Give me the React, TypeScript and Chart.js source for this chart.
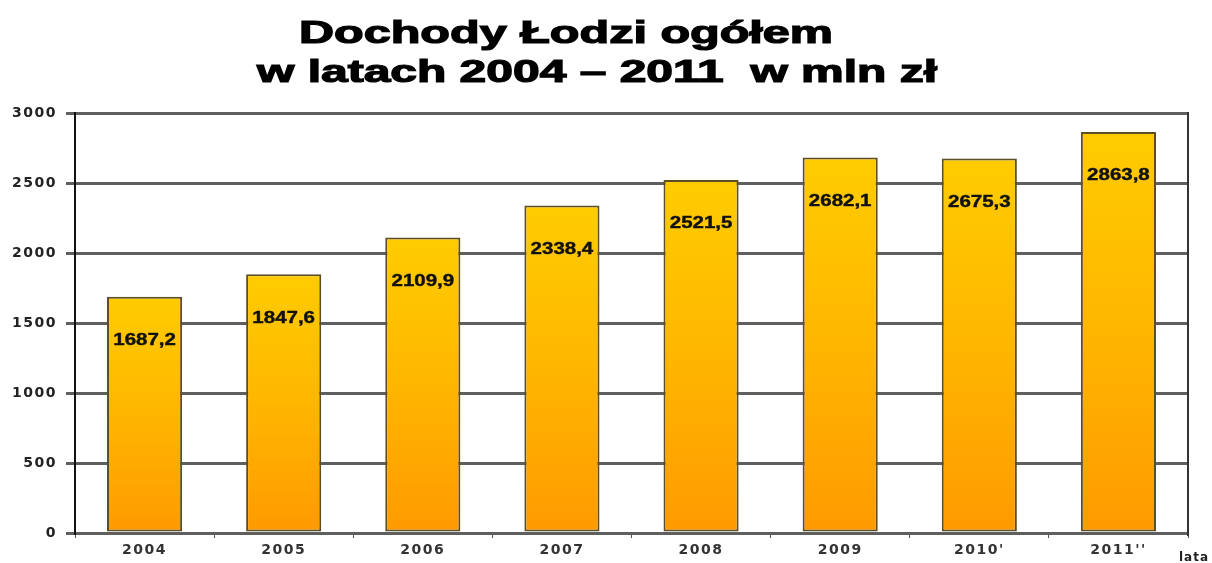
import React, { useEffect, useRef } from 'react';
import { Chart, registerables } from 'chart.js';

Chart.register(...registerables);

const categories = ['2004', '2005', '2006', '2007', '2008', '2009', "2010'", "2011''"];
const values = [1687.2, 1847.6, 2109.9, 2338.4, 2521.5, 2682.1, 2675.3, 2863.8];
const yTicks = [0, 500, 1000, 1500, 2000, 2500, 3000];
const titleLine1 = 'Dochody Łodzi ogółem';
const titleLine2 = 'w latach 2004 – 2011  w mln zł';
const xAxisName = 'lata';

const fmt = (v: number) => v.toFixed(1).replace('.', ',');

const stretchText = (ctx: CanvasRenderingContext2D, text: string, x: number, y: number, width: number, stroke: number) => {
  const w = ctx.measureText(text).width;
  ctx.save();
  ctx.translate(x, y);
  ctx.scale(width / w, 1);
  ctx.fillText(text, 0, 0);
  if (stroke > 0) {
    ctx.lineWidth = stroke;
    ctx.strokeText(text, 0, 0);
  }
  ctx.restore();
};

const decorPlugin = {
  id: 'decor',
  beforeDraw(chart: any) {
    chart.ctx.letterSpacing = '1.5px';
  },
  afterDatasetsDraw(chart: any) {
    const ctx: CanvasRenderingContext2D = chart.ctx;
    const meta = chart.getDatasetMeta(0);
    ctx.save();
    ctx.letterSpacing = '0px';
    ctx.font = 'bold 16px "Liberation Sans", Arial, sans-serif';
    ctx.fillStyle = '#111';
    ctx.strokeStyle = '#111';
    ctx.textAlign = 'center';
    ctx.textBaseline = 'middle';
    meta.data.forEach((bar: any, i: number) => {
      ctx.save();
      ctx.translate(bar.x, bar.y + 44);
      ctx.scale(1.28, 1);
      ctx.fillText(fmt(values[i]), 0, 0);
      ctx.lineWidth = 0.4;
      ctx.strokeText(fmt(values[i]), 0, 0);
      ctx.restore();
    });
    ctx.restore();
  },
  afterDraw(chart: any) {
    const ctx: CanvasRenderingContext2D = chart.ctx;
    const { chartArea } = chart;
    ctx.save();
    ctx.letterSpacing = '0px';
    // right frame line
    ctx.strokeStyle = '#333';
    ctx.lineWidth = 2;
    ctx.beginPath();
    ctx.moveTo(chartArea.right, chartArea.top - 1);
    ctx.lineTo(chartArea.right, chartArea.bottom + 3);
    ctx.stroke();
    // title
    ctx.fillStyle = '#000';
    ctx.strokeStyle = '#000';
    ctx.textAlign = 'left';
    ctx.textBaseline = 'alphabetic';
    ctx.font = 'bold 31px "Liberation Sans", Arial, sans-serif';
    stretchText(ctx, titleLine1, 299, 43, 534, 1.2);
    stretchText(ctx, titleLine2, 257, 82, 680, 1.2);
    // axis name
    ctx.font = 'bold 12px "DejaVu Sans", sans-serif';
    ctx.fillStyle = '#222';
    ctx.textBaseline = 'top';
    ctx.letterSpacing = '1px';
    ctx.fillText(xAxisName, 1179, 552);
    ctx.restore();
  },
};

export default function App() {
  const canvasRef = useRef<HTMLCanvasElement | null>(null);

  useEffect(() => {
    document.body.style.margin = '0';
    const canvas = canvasRef.current;
    if (!canvas) return;
    const chart = new Chart(canvas, {
      type: 'bar',
      data: {
        labels: categories,
        datasets: [
          {
            data: values,
            backgroundColor: (c: any) => {
              const ch = c.chart;
              if (!ch.chartArea || c.parsed == null) return '#FFB800';
              const y = ch.scales.y;
              const top = y.getPixelForValue(c.parsed.y);
              const bottom = y.getPixelForValue(0);
              const g = ch.ctx.createLinearGradient(0, top, 0, bottom);
              g.addColorStop(0, '#FFCC00');
              g.addColorStop(0.5, '#FFB600');
              g.addColorStop(1, '#FF9A00');
              return g;
            },
            borderColor: '#5E4E24',
            borderWidth: 2,
            borderSkipped: false,
            barPercentage: 0.54,
            categoryPercentage: 1,
          },
        ],
      },
      plugins: [decorPlugin],
      options: {
        responsive: false,
        animation: false,
        devicePixelRatio: 1,
        layout: { padding: { top: 113, right: 24, left: 0, bottom: 0 } },
        plugins: {
          legend: { display: false },
          title: { display: false },
          tooltip: { enabled: false },
        },
        scales: {
          x: {
            offset: true,
            afterFit: (s: any) => {
              s.height = 30;
            },
            grid: {
              display: true,
              offset: true,
              drawOnChartArea: false,
              drawTicks: true,
              tickLength: 5,
              color: '#555',
              lineWidth: 1,
            },
            border: { display: true, color: '#5f5f5f', width: 3 },
            ticks: {
              color: '#333',
              padding: 4,
              font: { family: '"DejaVu Sans", Verdana, sans-serif', size: 14, weight: 'bold' },
            },
          },
          y: {
            min: 0,
            max: 3000,
            afterFit: (s: any) => {
              s.width = 75;
            },
            afterBuildTicks: (s: any) => {
              s.ticks = yTicks.map((v) => ({ value: v }));
            },
            grid: {
              color: '#5f5f5f',
              lineWidth: 3,
              drawTicks: true,
              tickLength: 9,
            },
            border: { display: true, color: '#111', width: 2 },
            ticks: {
              color: '#222',
              padding: 9,
              font: { family: '"DejaVu Sans", Verdana, sans-serif', size: 14, weight: 'bold' },
              callback: (v: any) => String(v),
            },
          },
        },
      },
    });
    return () => chart.destroy();
  }, []);

  return (
    <div style={{ width: 1212, height: 563, background: '#fff' }}>
      <canvas ref={canvasRef} width={1212} height={563} style={{ display: 'block' }} />
    </div>
  );
}
